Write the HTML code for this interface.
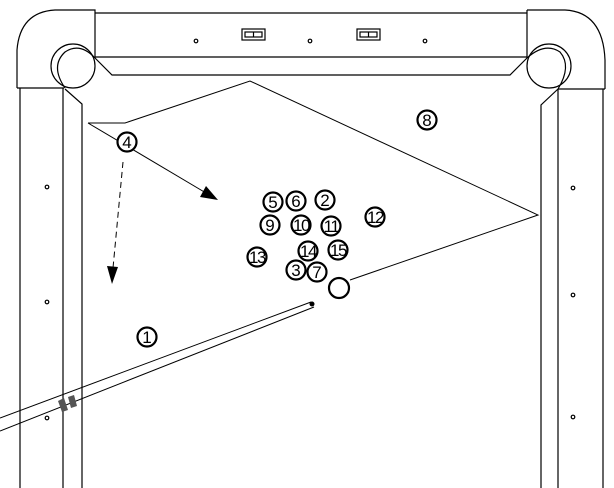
<!DOCTYPE html>
<html><head><style>body{margin:0;background:#fff}svg{display:block}</style></head><body>
<svg width="614" height="488" viewBox="0 0 614 488" xmlns="http://www.w3.org/2000/svg" font-family="Liberation Sans, sans-serif">
<g fill="none" stroke="#000" stroke-width="1.2">
<path d="M17,88 L17,50 Q20,12 55,10 L95,10 L95,58"/>
<line x1="17" y1="88" x2="64" y2="88"/>
<circle cx="73" cy="66" r="22"/>
<path d="M65,88 Q50,66 65,52 Q80,42 95,58"/>
<path d="M527,10 L565,10 Q603,12 605,60 L605,89"/>
<line x1="527" y1="10" x2="527" y2="58"/>
<line x1="558" y1="89" x2="605" y2="89"/>
<circle cx="549" cy="66" r="22"/>
<path d="M527,58 Q545,42 560,52 Q572,66 558,89"/>
<line x1="95" y1="13" x2="527" y2="13"/>
<line x1="95" y1="57" x2="527" y2="57"/>
<path d="M95,58 L112,75 L510,75 L527,58"/>
<line x1="20" y1="88" x2="20" y2="488"/>
<line x1="63" y1="88" x2="63" y2="488"/>
<path d="M65,89 L82,104 L82,488"/>
<line x1="603" y1="89" x2="603" y2="488"/>
<line x1="558" y1="89" x2="558" y2="488"/>
<path d="M558,89 L541,105 L541,488"/>
<circle cx="196" cy="41" r="1.8"/><circle cx="310" cy="41" r="1.8"/><circle cx="425" cy="41" r="1.8"/>
<rect x="242" y="29" width="23" height="11"/><rect x="245" y="32" width="17" height="5"/><line x1="253.5" y1="32" x2="253.5" y2="37"/>
<rect x="357" y="29" width="23" height="11"/><rect x="360" y="32" width="17" height="5"/><line x1="368.5" y1="32" x2="368.5" y2="37"/>
<circle cx="47" cy="187" r="1.8"/><circle cx="47" cy="302" r="1.8"/><circle cx="47" cy="418" r="1.8"/>
<circle cx="573" cy="188" r="1.8"/><circle cx="573" cy="295" r="1.8"/><circle cx="573" cy="417" r="1.8"/>
<polyline points="88,123 125,123 250,81 538,215 350,280" stroke-width="1"/>
<line x1="88" y1="123" x2="206" y2="193" stroke-width="1"/>
<line x1="123" y1="162" x2="113" y2="268" stroke-dasharray="6,4" stroke-width="1"/>
<line x1="311" y1="302" x2="0" y2="418" stroke-width="1"/>
<line x1="314" y1="307" x2="0" y2="431" stroke-width="1"/>
</g>
<polygon points="218,200 200,197 206,186" fill="#000"/>
<polygon points="112,284 107,266 118,267" fill="#000"/>
<circle cx="312" cy="304" r="2.5" fill="#000"/>
<polygon points="58,401 64,398 68,410 62,412" fill="#555"/>
<polygon points="68,397 74,395 77,406 71,408" fill="#555"/>
<g fill="#fff" stroke="#000" stroke-width="2.2">
<circle cx="127" cy="142" r="9.5"/><circle cx="427" cy="120" r="9.5"/>
<circle cx="273" cy="202" r="9.5"/><circle cx="296" cy="201" r="9.5"/><circle cx="325" cy="200" r="9.5"/>
<circle cx="270" cy="225" r="9.5"/><circle cx="301" cy="225" r="9.5"/><circle cx="331" cy="226" r="9.5"/>
<circle cx="375" cy="217" r="9.5"/><circle cx="257" cy="257" r="9.5"/><circle cx="308" cy="251" r="9.5"/>
<circle cx="338" cy="250" r="9.5"/><circle cx="296" cy="270" r="9.5"/><circle cx="317" cy="272" r="9.5"/>
<circle cx="339" cy="288" r="10"/><circle cx="147" cy="337" r="9.5"/>
</g>
<g font-size="17" text-anchor="middle" fill="#000">
<text x="127" y="148">4</text><text x="427" y="126">8</text>
<text x="273" y="208">5</text><text x="296" y="207">6</text><text x="325" y="206">2</text>
<text x="270" y="231">9</text><text x="301" y="231" letter-spacing="-1.5">10</text><text x="331" y="232" letter-spacing="-1.5">11</text>
<text x="375" y="223" letter-spacing="-1.5">12</text><text x="257" y="263" letter-spacing="-1.5">13</text><text x="308" y="257" letter-spacing="-1.5">14</text>
<text x="338" y="256" letter-spacing="-1.5">15</text><text x="296" y="276">3</text><text x="317" y="278">7</text>
<text x="147" y="343">1</text>
</g>
</svg>
</body></html>
